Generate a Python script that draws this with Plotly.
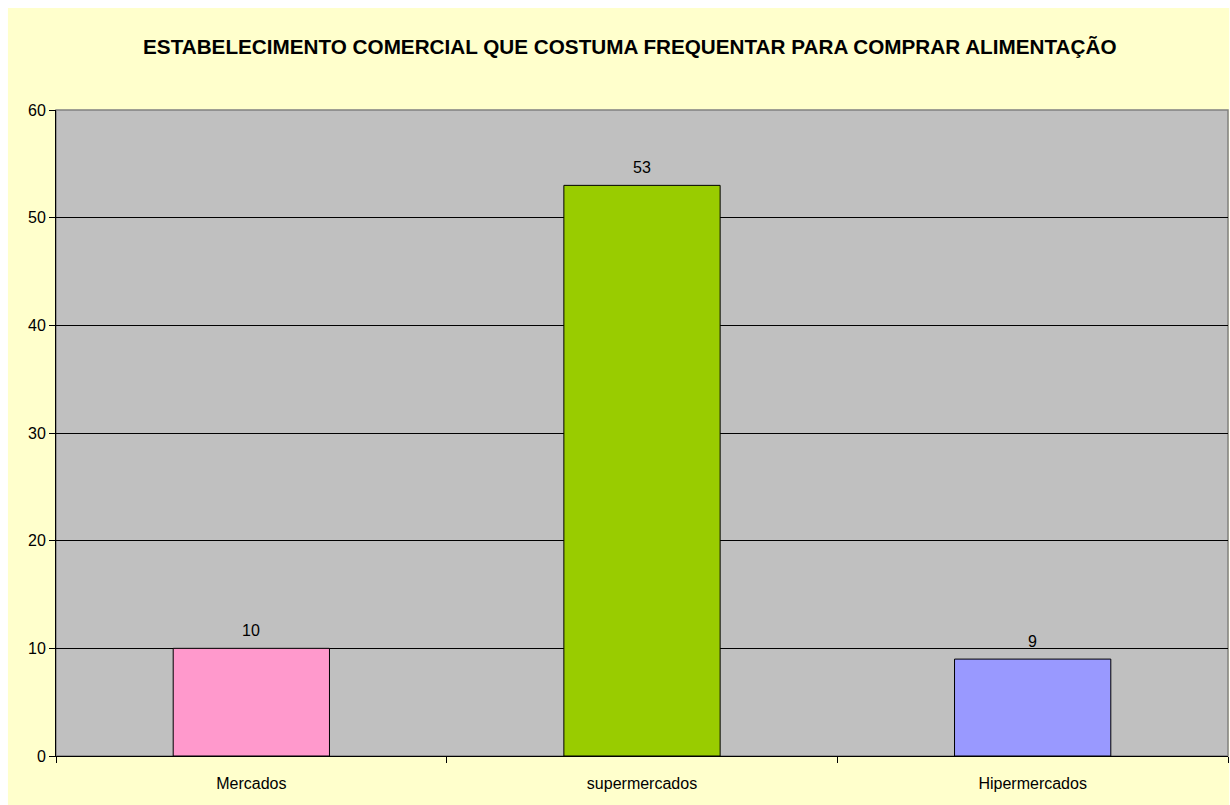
import plotly.graph_objects as go

categorias = ["Mercados", "supermercados", "Hipermercados"]
valores = [10, 53, 9]
cores = ["#FF99CC", "#99CC00", "#9999FF"]
titulo = "ESTABELECIMENTO COMERCIAL QUE COSTUMA FREQUENTAR PARA COMPRAR ALIMENTAÇÃO"

fonte = "Arial, Liberation Sans, sans-serif"

fig = go.Figure(
    go.Bar(
        x=categorias,
        y=valores,
        marker=dict(color=cores, line=dict(color="#000000", width=1)),
        width=0.4,
        cliponaxis=False,
    )
)

# Value labels floating a little above each bar
for cat, val in zip(categorias, valores):
    fig.add_annotation(
        x=cat, y=val, text=str(val), showarrow=False,
        yanchor="middle", yshift=18,
        font=dict(family=fonte, size=16, color="#000000"),
    )

# Yellow chart area behind everything, then the gray plotting surface
fig.add_shape(type="rect", xref="paper", yref="paper",
              x0=-0.041, x1=1.001, y0=-0.08, y1=1.158,
              fillcolor="#FFFFCC", line=dict(width=0), layer="below")
fig.add_shape(type="rect", xref="paper", yref="paper",
              x0=0, x1=1, y0=0, y1=1,
              fillcolor="#C0C0C0", line=dict(color="#808080", width=1.5), layer="below")

fig.update_layout(
    width=1230,
    height=805,
    paper_bgcolor="#FFFFFF",
    plot_bgcolor="rgba(0,0,0,0)",
    margin=dict(l=56, r=2, t=110, b=49),
    showlegend=False,
    font=dict(family=fonte, size=16, color="#000000"),
    title=dict(
        text="<b>" + titulo + "</b>",
        x=0.512, xanchor="center",
        y=1 - 47 / 805, yanchor="middle",
        font=dict(family=fonte, size=20.7, color="#000000"),
    ),
    bargap=0.6,
)

fig.update_yaxes(
    range=[0, 60],
    dtick=10,
    showgrid=True,
    gridcolor="#000000",
    gridwidth=1,
    zeroline=False,
    showline=True,
    linecolor="#000000",
    linewidth=1,
    ticks="outside",
    ticklen=6,
    tickcolor="#000000",
    tickfont=dict(family=fonte, size=16, color="#000000"),
)

fig.update_xaxes(
    showline=True,
    linecolor="#000000",
    linewidth=1,
    ticks="outside",
    tickson="boundaries",
    ticklen=6,
    tickcolor="#000000",
    showgrid=False,
    ticklabelstandoff=13,
    tickfont=dict(family=fonte, size=16, color="#000000"),
)

fig.write_html("out.html")
